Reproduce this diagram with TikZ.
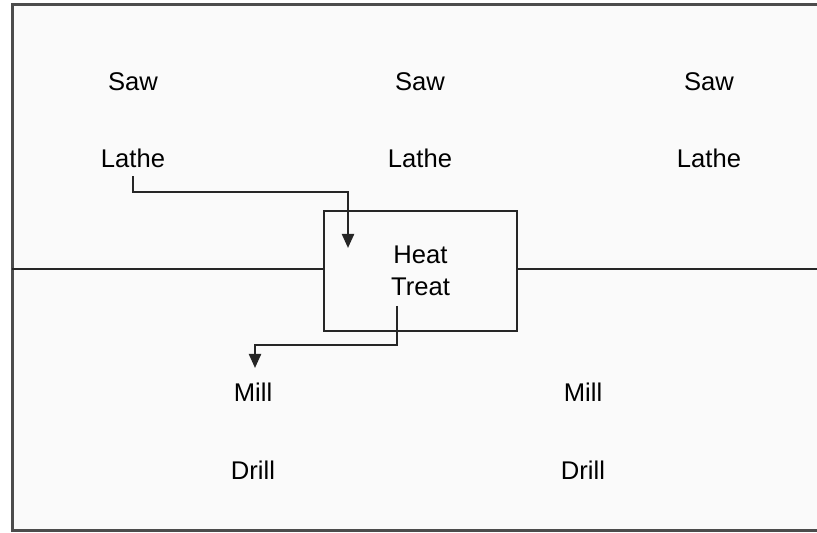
\documentclass[tikz,border=0pt]{standalone}
\usepackage{fontspec}
\setmainfont{Liberation Sans}
\usetikzlibrary{arrows.meta}

\begin{document}
\begin{tikzpicture}[x=0.5pt, y=-0.5pt, line width=1.1pt,
	poste/.style={font=\fontsize{12.8}{16}\selectfont, inner sep=2pt},
	fleche/.style={-{Triangle[width=6pt,length=7pt]}, color=black!85}]
	\useasboundingbox (0,0) rectangle (817,533);
	%le cadre
	\fill[color=black!2] (12,5) rectangle (817,530);
	\draw[color=black!70, line width=1.5pt] (817,5) -- (12,5) -- (12,530) -- (817,530);
	%les postes du haut
	\node[poste] (saw1) at (133,82) {Saw};
	\node[poste] (saw2) at (420,82) {Saw};
	\node[poste] (saw3) at (709,82) {Saw};
	\node[poste] (lathe1) at (133,158) {Lathe};
	\node[poste] (lathe2) at (420,158) {Lathe};
	\node[poste] (lathe3) at (709,158) {Lathe};
	%le traitement thermique
	\node[poste, draw=black!85, align=center, minimum width=96.5pt, minimum height=60pt] (heat) at (420.5,271) {Heat\\Treat};
	\draw[color=black!85] (12,269) -- (heat.west |- 0,269);
	\draw[color=black!85] (heat.east |- 0,269) -- (817,269);
	%les postes du bas
	\node[poste] (mill1) at (253,392) {Mill};
	\node[poste] (mill2) at (583,392) {Mill};
	\node[poste] (drill1) at (253,470) {Drill};
	\node[poste] (drill2) at (583,470) {Drill};
	%les fleches
	\coordinate (c1) at (348,192);
	\coordinate (t1) at (348,248);
	\draw[fleche] ([yshift=-2pt]lathe1.south) |- (c1) -- (t1);
	\coordinate (s2) at (397,306);
	\coordinate (c2) at (255,345);
	\coordinate (t2) at (255,368);
	\draw[fleche] (s2) |- (c2) -- (t2);
\end{tikzpicture}
\end{document}
